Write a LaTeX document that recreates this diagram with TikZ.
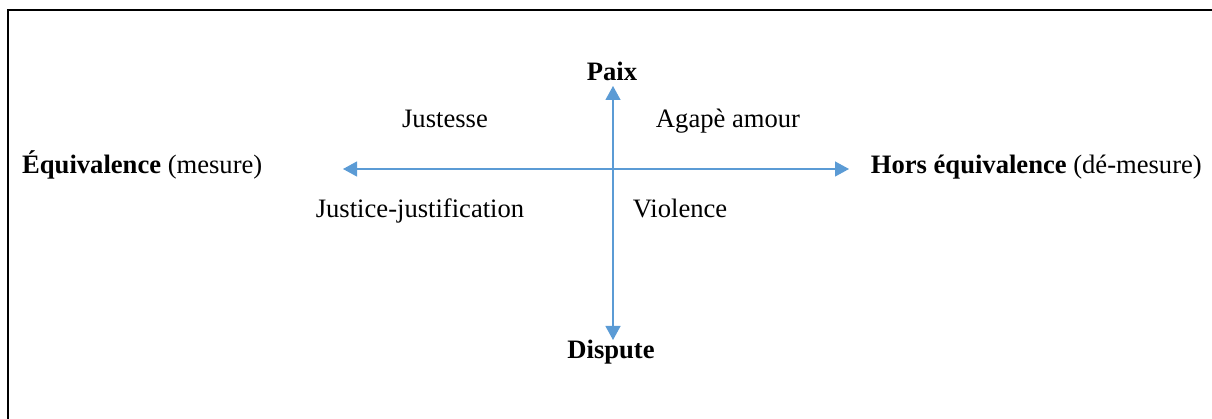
\documentclass[tikz,border=0pt]{standalone}
\usepackage{fontspec}
\setmainfont{Liberation Serif}
\usetikzlibrary{arrows.meta}
\definecolor{axisblue}{HTML}{5B9BD5}
\tikzset{
  axis/.style={draw=axisblue,line width=1.2pt,{Triangle[length=14pt,width=15pt]}-{Triangle[length=14pt,width=15pt]}},
  lbl/.style={inner sep=0pt,font=\fontsize{26.6}{30}\selectfont}
}
\begin{document}
\begin{tikzpicture}[x=1pt,y=-1pt]
    \clip (0,0) rectangle (1212,419);
    \draw[line width=2.6pt] (8,10) rectangle (1240,450);
    % axes
    \coordinate (ouest) at (343,169);
    \coordinate (est) at (849,169);
    \coordinate (haut) at (613,86);
    \coordinate (bas) at (613,340);
    \draw[axis] (ouest) -- (est);
    \draw[axis] (haut) -- (bas);
    % poles
    \node[lbl,anchor=base] (paix) at (612,81) {\bfseries Paix};
    \node[lbl,anchor=base] (dispute) at (611,358) {\bfseries Dispute};
    \node[lbl,anchor=base west] (equiv) at (22,174) {\textbf{Équivalence} (mesure)};
    \node[lbl,anchor=base east] (hors) at (1202,174) {\textbf{Hors équivalence} (dé-mesure)};
    % quadrants
    \node[lbl,anchor=base] (justesse) at (445,128) {Justesse};
    \node[lbl,anchor=base] (agape) at (728,128) {Agapè amour};
    \node[lbl,anchor=base] (justice) at (420,218) {Justice-justification};
    \node[lbl,anchor=base] (violence) at (680,218) {Violence};

  \end{tikzpicture}
\end{document}
